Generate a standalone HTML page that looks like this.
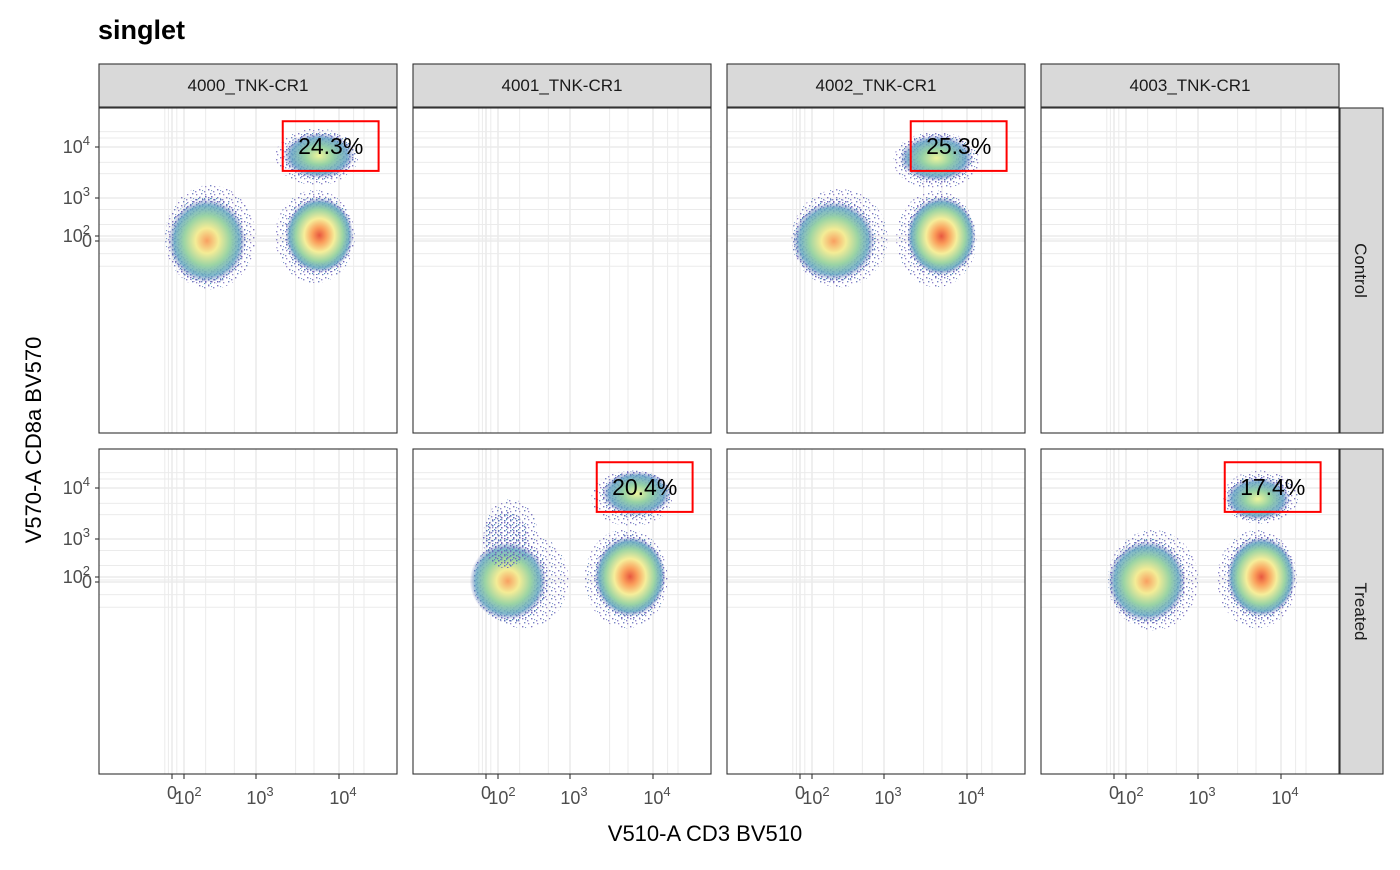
<!DOCTYPE html>
<html><head><meta charset="utf-8">
<style>
body{margin:0;background:#fff;}
svg text{font-family:"Liberation Sans",Arial,sans-serif;}
</style></head>
<body>
<svg id="chart" width="1400" height="865" viewBox="0 0 1400 865" xmlns="http://www.w3.org/2000/svg">
<defs>
<pattern id="speck" width="9" height="8" patternUnits="userSpaceOnUse">
<rect x="1" y="1" width="1.4" height="1.4" fill="#6a5fb5"/><rect x="6" y="3" width="1.4" height="1.4" fill="#7b73c4"/>
<rect x="3" y="5" width="1.4" height="1.4" fill="#5e70b8"/><rect x="7" y="6" width="1.3" height="1.3" fill="#7f6fc0"/>
<rect x="4" y="2" width="1.1" height="1.1" fill="#6a8fc0"/>
</pattern>
<pattern id="speck2" width="6" height="5" patternUnits="userSpaceOnUse">
<rect x="1" y="1" width="1.5" height="1.5" fill="#5b6fbb"/><rect x="4" y="3" width="1.5" height="1.5" fill="#6f66bd"/>
<rect x="3" y="0" width="1.2" height="1.2" fill="#4f98b8"/>
</pattern>
<radialGradient id="dens5"><stop offset="0" stop-color="#e8583f"/><stop offset="0.2" stop-color="#fa9c5a"/><stop offset="0.45" stop-color="#f6ee9a"/><stop offset="0.7" stop-color="#9bd4a4"/><stop offset="0.88" stop-color="#62a5c0" stop-opacity="0.85"/><stop offset="1" stop-color="#6a6fbc" stop-opacity="0"/></radialGradient>
<radialGradient id="dens4"><stop offset="0" stop-color="#f8a061"/><stop offset="0.3" stop-color="#f4ec96"/><stop offset="0.6" stop-color="#9bd4a4"/><stop offset="0.85" stop-color="#62a5c0" stop-opacity="0.8"/><stop offset="1" stop-color="#6a6fbc" stop-opacity="0"/></radialGradient>
<radialGradient id="dens3"><stop offset="0" stop-color="#eef59c"/><stop offset="0.4" stop-color="#96d2a5"/><stop offset="0.8" stop-color="#5f9ec2" stop-opacity="0.8"/><stop offset="1" stop-color="#6a6fbc" stop-opacity="0"/></radialGradient>
</defs>
<text x="98" y="39" font-size="27" font-weight="bold" fill="#000">singlet</text>
<g id="panels"></g>
<text x="705" y="841" font-size="22" text-anchor="middle" fill="#000">V510-A CD3 BV510</text>
<text x="0" y="0" font-size="22" text-anchor="middle" fill="#000" transform="translate(41,440) rotate(-90)">V570-A CD8a BV570</text>
</svg>
<script>
// ---- data ----
const sampleNames = ["4000_TNK-CR1","4001_TNK-CR1","4002_TNK-CR1","4003_TNK-CR1"];
const conditionNames = ["Control","Treated"];
const xTickValues = [0,100,1000,10000];
const xTickLabels = ["0","10","10","10"];
const xTickExp = ["","2","3","4"];
const yTickValues = [0,100,1000,10000];
const gridValues = [-60,-30,0,40,100,200,500,1000,3000,5000,10000,15000,20000];
// facets that have data: [col,row]
const facetCol = [0,2,1,3];
const facetRow = [0,0,1,1];
const gatePercent = ["24.3%","25.3%","20.4%","17.4%"];
const gateXLo = [2100,2100,2100,2100];
const gateXHi = [30000,30000,30000,30000];
const gateYLo = [3400,3400,3400,3400];
const gateYHi = [32000,32000,32000,32000];
// clusters: facet index, centre (x,y), extent (x lo/hi, y lo/hi), density level
const clFacet = [0,0,0, 1,1,1, 2,2,2,2, 3,3,3];
const clCx    = [195,6300,6000, 178,5400,4300, 95,5700,7000,110, 170,6300,5000];
const clCy    = [-5,110,7000, -5,110,6500, 0,110,9000,600, 0,110,5800];
const clXLo   = [-58,1700,1700, -70,1400,1300, -60,1500,1800,-20, -50,1700,2000];
const clXHi   = [980,15500,17000, 1100,13000,14000, 950,15000,17000,350, 1000,15500,16000];
const clYLo   = [-115,-100,1800, -110,-110,1500, -110,-110,1800,200, -115,-110,2000];
const clYHi   = [1800,1440,23000, 1500,1400,20000, 1400,1600,22000,6000, 1500,1500,22000];
const clLevel = [4,5,3, 4,5,3, 4,5,3,2, 4,5,3];

// ---- layout ----
const colX = [99,413,727,1041], rowY = [108,449], PW = 298, PH = 325;
function interp(u, us, ps){
  if(u<=us[0]) return ps[0]+(u-us[0])*(ps[1]-ps[0])/(us[1]-us[0]);
  for(let i=1;i<us.length;i++) if(u<=us[i]) return ps[i-1]+(u-us[i-1])*(ps[i]-ps[i-1])/(us[i]-us[i-1]);
  const n=us.length-1; return ps[n]+(u-us[n])*(ps[n]-ps[n-1])/(us[n]-us[n-1]);
}
function tu(v){ return v<=100 ? v/100 : 1+Math.log10(v/100); }
function xScale(v){ return interp(tu(v),[-1,0,1,2,3],[61,73,85,157,240]); }
function yScale(v){ return interp(tu(v),[-1,0,1,2,3],[175,133,128,90,39]); }
const NS="http://www.w3.org/2000/svg";
const root=document.getElementById('panels');
function mk(tag,attrs,parent){const e=document.createElementNS(NS,tag);for(const k in attrs)e.setAttribute(k,attrs[k]);(parent||root).appendChild(e);return e;}

for(let r=0;r<2;r++){
  for(let c=0;c<4;c++){
    const g=mk('g',{transform:`translate(${colX[c]},${rowY[r]})`});
    
    
    mk('rect',{x:0,y:0,width:PW,height:PH,fill:'#fff'},g);
    gridValues.forEach(v=>{
      const major = yTickValues.includes(v);
      const gx=xScale(v), gy=yScale(v);
      const l1=mk('line',{x1:gx,x2:gx,y1:0,y2:PH,stroke:'#ebebeb','stroke-width':major?1.6:1},g);
      
      
      if(gy>0&&gy<PH){const l2=mk('line',{x1:0,x2:PW,y1:gy,y2:gy,stroke:'#ebebeb','stroke-width':major?1.6:1},g);
      
      }
    });
    const cg=mk('g',{id:`cl-${c}-${r}`},g);
    const box=mk('rect',{x:0,y:0,width:PW,height:PH,fill:'none',stroke:'#333','stroke-width':1.1},g);
    
    
    if(r===0){
      const s=mk('rect',{x:0,y:-44,width:PW,height:43,fill:'#d9d9d9',stroke:'#333','stroke-width':1.1},g);
      
      
      const t=mk('text',{x:PW/2,y:-17,'text-anchor':'middle','font-size':17,fill:'#1a1a1a'},g);
      t.textContent=sampleNames[c];
      
      
    }
    if(c===3){
      const s=mk('rect',{x:PW+1,y:0,width:43,height:PH,fill:'#d9d9d9',stroke:'#333','stroke-width':1.1},g);
      
      
      const t=mk('text',{x:0,y:0,'text-anchor':'middle','font-size':17,fill:'#1a1a1a',transform:`translate(${PW+16},${PH/2}) rotate(90)`},g);
      t.textContent=conditionNames[r];
      
      
    }
    if(c===0){
      yTickValues.forEach((v,i)=>{
        const y=yScale(v);
        mk('line',{x1:-4,x2:0,y1:y,y2:y,stroke:'#333','stroke-width':1.1},g);
        const t=mk('text',{x:-7,y:y+6,'text-anchor':'end','font-size':18,fill:'#4d4d4d'},g);
        
        
        if(xTickExp[i]){t.textContent=xTickLabels[i];const ts=mk('tspan',{dy:-8,'font-size':13},t);ts.textContent=xTickExp[i];t.setAttribute('x',-9);}
        else t.textContent=xTickLabels[i];
      });
    }
    if(r===1){
      xTickValues.forEach((v,i)=>{
        const x=xScale(v);
        mk('line',{x1:x,x2:x,y1:PH,y2:PH+5,stroke:'#333','stroke-width':1.1},g);
        const t=mk('text',{x:x,y:PH+(xTickExp[i]?30:25),'text-anchor':'middle','font-size':18,fill:'#4d4d4d'},g);
        
        
        t.textContent=xTickLabels[i];
        if(xTickExp[i]){const ts=mk('tspan',{dy:-8,'font-size':13},t);ts.textContent=xTickExp[i];t.setAttribute('x',x+4);}
      });
    }
  }
}
// clusters
for(let k=0;k<clFacet.length;k++){
  const f=clFacet[k];
  const g=document.getElementById(`cl-${facetCol[f]}-${facetRow[f]}`);
  const cx=xScale(clCx[k]), cy=yScale(clCy[k]);
  const x0=xScale(clXLo[k]), x1=xScale(clXHi[k]), y0=yScale(clYHi[k]), y1=yScale(clYLo[k]);
  const mx=(x0+x1)/2, my=(y0+y1)/2, ex=(x1-x0)/2, ey=(y1-y0)/2;
  const halo=mk('ellipse',{cx:mx,cy:my,rx:ex,ry:ey,fill:'url(#speck)',opacity:0.85},g);
  
  
  const mid=mk('ellipse',{cx:mx*0.5+cx*0.5,cy:my*0.5+cy*0.5,rx:ex*0.85,ry:ey*0.85,fill:'url(#speck2)'},g);
  
  
  if(clLevel[k]>2){
    const core=mk('ellipse',{cx:mx*0.4+cx*0.6,cy:my*0.4+cy*0.6,rx:ex*0.85,ry:ey*0.8,fill:`url(#dens${clLevel[k]})`},g);
    
    
  }
}
// gates
for(let f=0;f<gatePercent.length;f++){
  const g=document.getElementById(`cl-${facetCol[f]}-${facetRow[f]}`).parentNode;
  const x0=xScale(gateXLo[f]), x1=xScale(gateXHi[f]), y0=yScale(gateYHi[f]), y1=yScale(gateYLo[f]);
  const b=mk('rect',{x:x0,y:y0,width:x1-x0,height:y1-y0,fill:'none',stroke:'#ff0000','stroke-width':2},g);
  
  
  const t=mk('text',{x:(x0+x1)/2,y:(y0+y1)/2+8,'text-anchor':'middle','font-size':23,fill:'#000'},g);
  t.textContent=gatePercent[f];
  
  
}
</script>
</body></html>
